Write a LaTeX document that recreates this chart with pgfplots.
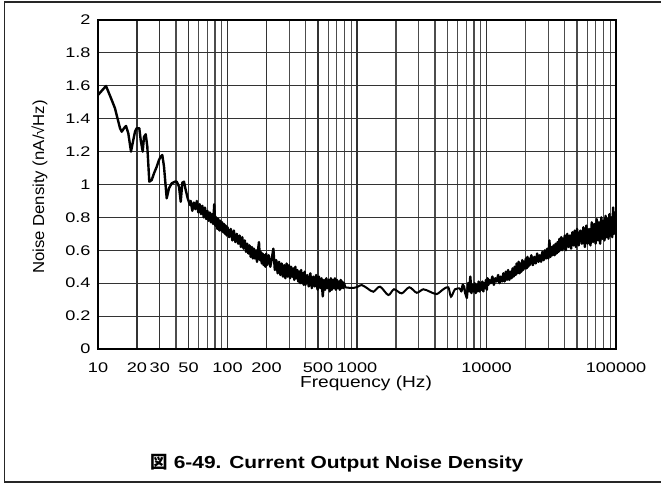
\documentclass[border=0pt]{standalone}
\usepackage{fontspec}
\usepackage{pgfplots}
\pgfplotsset{compat=1.18}
\setmainfont{Liberation Sans}
\newfontfamily\tickfont{Liberation Sans}[FakeStretch=1.3]
\newfontfamily\labfont{Liberation Sans}[FakeStretch=1.2]
\newfontfamily\ylabfont{Liberation Sans}[FakeStretch=1.05]
\newfontfamily\capfont{Liberation Sans}[FakeStretch=1.2]
\newfontfamily\cjk{Noto Sans CJK JP}

\begin{document}
\begin{tikzpicture}[x=1bp,y=1bp]
\path[use as bounding box] (0,0) rectangle (661,484);
\draw[line width=1.3bp, black!85] (670,482) -- (4.5,482) -- (4.5,2) -- (670,2);
\begin{axis}[
  at={(98bp,135bp)}, anchor=south west,
  scale only axis, width=518bp, height=329bp,
  xmode=log, xmin=10, xmax=100000, ymin=0, ymax=2,
  xtick={10,20,30,50,100,200,500,1000,10000,100000},
  xticklabels={10,20,30,50,100,200,500,1000,10000,100000},
  minor xtick={40,60,70,80,90,300,400,600,700,800,900,2000,3000,4000,5000,6000,7000,8000,9000,20000,30000,40000,50000,60000,70000,80000,90000},
  ytick={0,0.2,0.4,0.6,0.8,1,1.2,1.4,1.6,1.8,2},
  yticklabels={0,0.2,0.4,0.6,0.8,1,1.2,1.4,1.6,1.8,2},
  grid=both,
  major grid style={line width=1.1bp, black!80},
  minor grid style={line width=1.1bp, black!70},
  major tick length=0, minor tick length=0,
  axis line style={line width=2.8bp, black},
  xticklabel style={font=\tickfont\fontsize{14}{16}\selectfont, yshift=-10.5bp},
  yticklabel style={font=\tickfont\fontsize{14}{16}\selectfont, xshift=-4bp},
  clip=true,
]
\addplot[black, line width=2.4bp, line join=round] coordinates {
(10,1.544)(11.53,1.599)(12.76,1.514)(13.53,1.463)(13.94,1.422)(14.79,1.342)(15.24,1.321)(15.88,1.342)(16.45,1.356)(17.14,1.311)(17.98,1.20)(18.73,1.27)(19.31,1.321)(19.9,1.342)(20.84,1.342)(21.37,1.27)(22.14,1.20)(22.66,1.29)(23.36,1.305)(24.03,1.23)(24.9,1.017)(25.98,1.027)(27.07,1.068)(28.41,1.108)(29.58,1.149)(30.5,1.169)(31.38,1.179)(32.34,1.108)(33.92,0.916)(35.34,0.977)(37.08,1.007)(39.32,1.017)(40.53,1.017)(42.22,0.987)(43.53,0.895)(44.77,1.011)(46.14,1.017)(47.56,0.967)(49.28,0.916)(51.33,0.875)
(52,0.90)(53.5,0.84)(55,0.89)(56.5,0.85)(58,0.90)(59.5,0.83)(61,0.88)(62.5,0.82)(64,0.87)(65.5,0.80)(67,0.86)(68.5,0.79)
(70,0.84)(71.5,0.78)(73,0.83)(74.5,0.77)(76,0.82)(77.5,0.76)(79,0.88)(80.5,0.75)(82,0.80)(83.5,0.73)(85,0.79)(86.5,0.72)(88,0.78)(89.5,0.72)(91,0.77)(92.5,0.71)(94,0.76)(95.5,0.70)(97,0.75)(98.5,0.69)
(100,0.74)(103,0.68)(106,0.73)(109,0.66)(112,0.72)(115,0.65)(118,0.70)(121,0.64)(124,0.69)(127,0.62)(130,0.68)(133,0.61)(136,0.66)(139,0.59)(142,0.64)(145,0.58)(148,0.63)(151,0.56)(154,0.62)(157,0.55)(160,0.61)(163,0.55)(166,0.60)
(169,0.53)(172,0.60)(175,0.65)(178,0.54)(181,0.59)(184,0.52)(187,0.58)(190,0.51)(193,0.57)(196,0.50)(199,0.58)(202,0.51)
(208,0.57)(214,0.50)(220,0.55)(226,0.61)(232,0.48)(238,0.54)(244,0.46)(250,0.53)(256,0.45)(262,0.52)(268,0.44)(274,0.51)(280,0.43)(286,0.52)(292,0.44)(298,0.51)(304,0.43)(310,0.50)(316,0.44)(322,0.49)(328,0.42)(334,0.50)(340,0.43)(346,0.48)(352,0.41)(358,0.47)(364,0.40)(370,0.48)(376,0.40)(382,0.46)(388,0.39)(394,0.47)
(400,0.39)(412,0.45)(424,0.38)(436,0.46)(448,0.37)(460,0.44)(472,0.38)(484,0.45)(496,0.36)(508,0.44)(520,0.37)(532,0.43)(544,0.32)(556,0.42)(568,0.36)(580,0.43)(592,0.37)(604,0.42)(616,0.35)(628,0.43)(640,0.36)(652,0.42)(664,0.37)(676,0.43)(688,0.36)(700,0.42)(712,0.37)(724,0.41)(736,0.36)(748,0.42)(760,0.37)(772,0.41)(784,0.37)(796,0.40)(808,0.375)
};
\addplot[black, line width=2bp, smooth, tension=0.5] coordinates {
(808,0.375)(870,0.372)(936,0.371)(1010,0.378)(1087,0.389)(1201,0.369)(1336,0.348)(1505,0.379)(1745,0.328)(1931,0.363)(2214,0.338)(2535,0.375)(2891,0.342)(3251,0.363)(3662,0.348)(4125,0.334)(4640,0.363)(5070,0.375)(5319,0.318)(5712,0.363)(6245,0.369)
};
\addplot[black, line width=2.4bp, line join=round] coordinates {
(6245,0.369)(6400,0.35)(6550,0.39)(6700,0.38)(6850,0.34)(7050,0.31)(7200,0.40)(7350,0.35)(7500,0.44)(7650,0.34)(7800,0.39)(7950,0.35)(8100,0.40)(8250,0.34)(8400,0.39)(8550,0.35)(8700,0.41)(8850,0.35)(9000,0.40)(9150,0.36)(9300,0.41)(9450,0.35)(9600,0.40)(9750,0.37)(9900,0.42)(10050,0.36)(10200,0.43)(10350,0.39)
(10500,0.42)(10800,0.40)(11100,0.44)(11400,0.39)(11700,0.43)(12000,0.41)(12300,0.45)(12600,0.40)(12900,0.44)(13200,0.41)(13500,0.46)(13800,0.41)(14100,0.47)(14400,0.42)(14700,0.48)(15000,0.42)(15300,0.47)(15600,0.43)(15900,0.49)(16200,0.44)(16500,0.50)(16800,0.45)(17100,0.52)(17400,0.46)(17700,0.53)(18000,0.46)(18300,0.52)(18600,0.47)(18900,0.54)(19200,0.48)(19500,0.53)(19800,0.49)(20100,0.55)(20400,0.49)(20700,0.56)(21000,0.50)(21300,0.55)(21600,0.51)
(22200,0.57)(22800,0.51)(23400,0.56)(24000,0.52)(24600,0.58)(25200,0.53)(25800,0.57)(26400,0.53)(27000,0.59)(27600,0.54)(28200,0.60)(28800,0.55)(29400,0.61)(30000,0.55)(30600,0.66)(31200,0.56)(31800,0.62)(32400,0.57)(33000,0.63)(33600,0.57)(34200,0.64)(34800,0.58)(35400,0.65)(36000,0.59)(36600,0.67)(37200,0.60)(37800,0.68)(38400,0.60)(39000,0.67)(39600,0.61)
(40200,0.69)(41000,0.60)(42000,0.70)(43000,0.62)(44000,0.69)(45000,0.61)(46000,0.71)(47000,0.63)(48000,0.72)(49000,0.62)(50000,0.73)(51500,0.63)(53000,0.72)(54500,0.64)(56000,0.74)(57500,0.62)(59000,0.75)(60500,0.64)(62000,0.73)(63500,0.63)(65000,0.77)(66500,0.65)(68000,0.76)(69500,0.64)(71000,0.79)(72500,0.66)(74000,0.77)(75500,0.64)(77000,0.80)(78500,0.67)(80000,0.78)(81500,0.66)(83000,0.81)(84500,0.68)(86000,0.79)(87500,0.67)(89000,0.82)(90500,0.69)(92000,0.80)(93500,0.68)(95000,0.86)(96500,0.70)(98000,0.83)(100000,0.72)
};
\end{axis}
\node[anchor=base, font=\labfont\fontsize{16}{18}\selectfont] at (366,96.5) {Frequency (Hz)};
\node[anchor=base, rotate=90, font=\ylabfont\fontsize{16}{18}\selectfont] at (44,297) {Noise Density (nA/√Hz)};
\node[anchor=base, font=\capfont\bfseries\fontsize{17.5}{20}\selectfont] at (337,15) {{\cjk\bfseries 図} 6-49. Current Output Noise Density};
\end{tikzpicture}
\end{document}
